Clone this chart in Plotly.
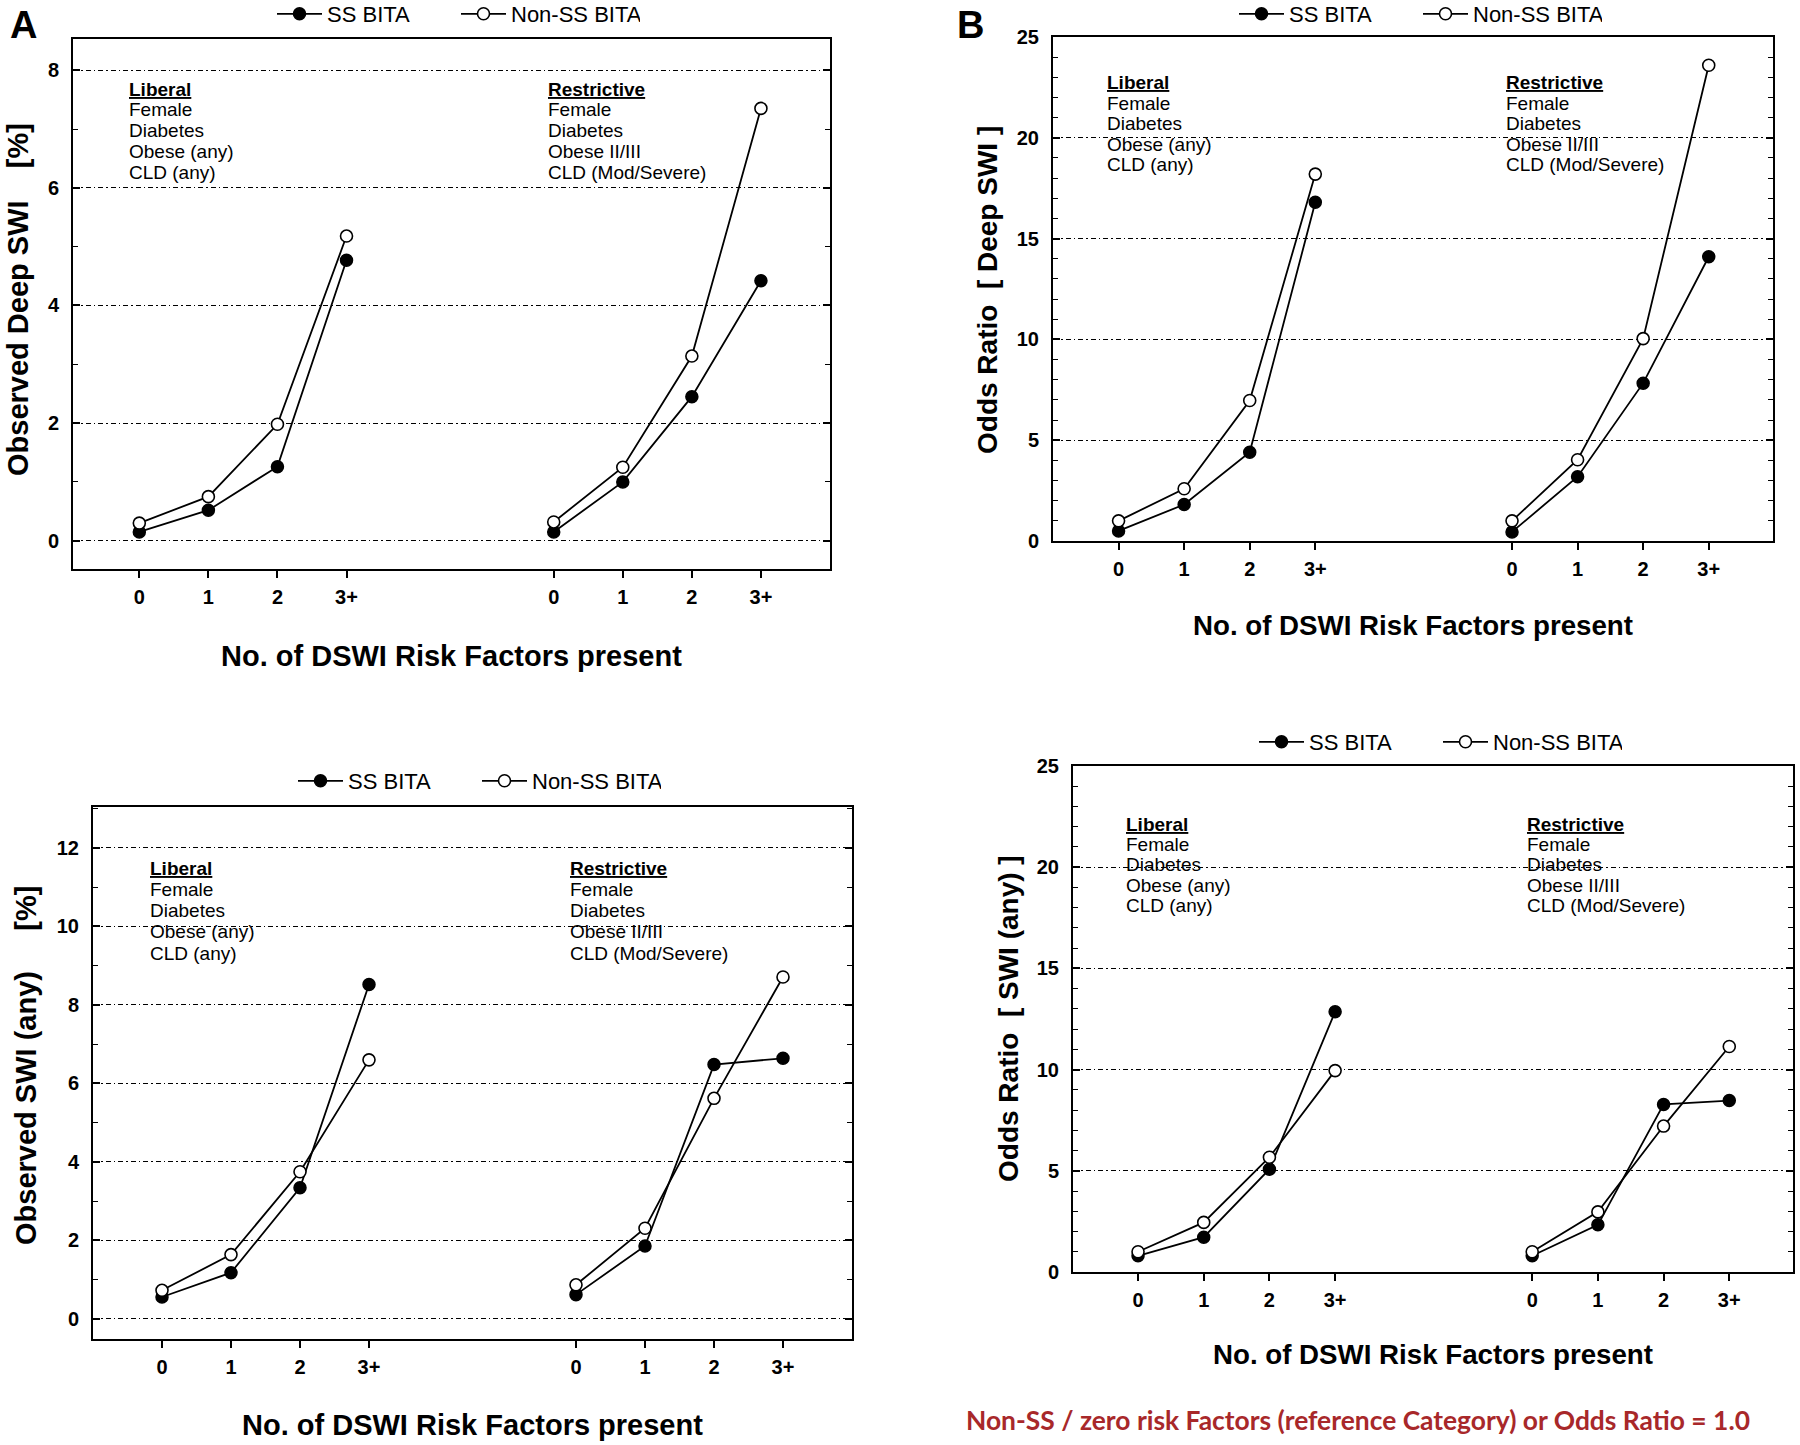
import plotly.graph_objects as go

W, H = 1800, 1445

# ---------------- data ----------------
categories = ["0", "1", "2", "3+"]
series_names = ["SS BITA", "Non-SS BITA"]
liberal_factors = ["Female", "Diabetes", "Obese (any)", "CLD (any)"]
restrictive_factors = ["Female", "Diabetes", "Obese II/III", "CLD (Mod/Severe)"]

# Panel A: Observed Deep SWI [%]
a_lib_ss = [0.15, 0.52, 1.26, 4.77]
a_lib_nss = [0.30, 0.75, 1.98, 5.18]
a_res_ss = [0.15, 1.00, 2.45, 4.42]
a_res_nss = [0.32, 1.25, 3.14, 7.35]

# Panel B: Odds Ratio [Deep SWI]
b_lib_ss = [0.50, 1.81, 4.40, 16.8]
b_lib_nss = [1.00, 2.59, 6.97, 18.2]
b_res_ss = [0.45, 3.19, 7.83, 14.1]
b_res_nss = [1.00, 4.03, 10.04, 23.6]

# Panel C: Observed SWI (any) [%]
c_lib_ss = [0.56, 1.18, 3.34, 8.52]
c_lib_nss = [0.73, 1.64, 3.75, 6.60]
c_res_ss = [0.62, 1.86, 6.48, 6.64]
c_res_nss = [0.87, 2.31, 5.62, 8.71]

# Panel D: Odds Ratio [SWI (any)]
d_lib_ss = [0.80, 1.72, 5.08, 12.86]
d_lib_nss = [1.00, 2.45, 5.67, 9.95]
d_res_ss = [0.80, 2.33, 8.28, 8.47]
d_res_nss = [1.00, 2.97, 7.21, 11.14]

# ---------------- layout helpers ----------------
FONT = "Liberation Sans, Arial, sans-serif"
GROUP_OFFSET = 6
lib_x = list(range(len(categories)))
res_x = [i + GROUP_OFFSET for i in lib_x]


def pxx(p):
    return p / W


def pxy(p):
    return 1 - p / H


panels = [
    dict(n="", frame=(73, 39, 830, 569), xr=[-0.96, 10.0], yr=[-0.48, 8.53], dtick=2, ymax=8,
         data=(a_lib_ss, a_lib_nss, a_res_ss, a_res_nss),
         ytitle="Observed Deep SWI\u00a0\u00a0\u00a0\u00a0[%]", ytpos=(18, 300), xtitle_y=656,
         ysize=29, xsize=29,
         legend="legend", legpos=(456, 14), lib_txt=(127, 89), res_txt_x=546, spacing=20.8),
    dict(n="2", frame=(1053, 37, 1773, 541), xr=[-1.0, 9.98], yr=[0, 25], dtick=5, ymax=25,
         data=(b_lib_ss, b_lib_nss, b_res_ss, b_res_nss),
         ytitle="Odds Ratio\u00a0\u00a0[ Deep SWI ]", ytpos=(988, 290), xtitle_y=625,
         ysize=28, xsize=27.7,
         legend="legend2", legpos=(1418, 14), lib_txt=(1105, 83), res_txt_x=1504, spacing=20.5),
    dict(n="3", frame=(93, 807, 852, 1339), xr=[-1.0, 10.0], yr=[-0.51, 13.04], dtick=2, ymax=12,
         data=(c_lib_ss, c_lib_nss, c_res_ss, c_res_nss),
         ytitle="Observed SWI (any)\u00a0\u00a0\u00a0\u00a0\u00a0[%]", ytpos=(26, 1066), xtitle_y=1425,
         ysize=29, xsize=29,
         legend="legend3", legpos=(477, 781), lib_txt=(148, 868), res_txt_x=568, spacing=21.3),
    dict(n="4", frame=(1073, 766, 1793, 1272), xr=[-0.99, 9.97], yr=[0, 25], dtick=5, ymax=25,
         data=(d_lib_ss, d_lib_nss, d_res_ss, d_res_nss),
         ytitle="Odds Ratio\u00a0\u00a0[ SWI (any) ]", ytpos=(1008, 1019), xtitle_y=1354,
         ysize=28, xsize=27.7,
         legend="legend4", legpos=(1438, 742), lib_txt=(1124, 824), res_txt_x=1525, spacing=20.5),
]

fig = go.Figure()
annotations = []
layout = dict(
    width=W, height=H, margin=dict(l=0, r=0, t=0, b=0, autoexpand=False),
    paper_bgcolor="white", plot_bgcolor="white",
    font=dict(family=FONT, color="black"),
    showlegend=True,
)

marker_styles = [
    dict(symbol="circle", size=12, color="black", line=dict(color="black", width=1.5)),
    dict(symbol="circle", size=12, color="white", line=dict(color="black", width=1.6)),
]

for p in panels:
    n = p["n"]
    xa, ya = "x" + n, "y" + n
    lib_ss, lib_nss, res_ss, res_nss = p["data"]
    for gi, (xs, ss, nss) in enumerate([(lib_x, lib_ss, lib_nss), (res_x, res_ss, res_nss)]):
        for si, vals in enumerate([ss, nss]):
            fig.add_trace(go.Scatter(
                x=xs, y=vals, mode="lines+markers", name=series_names[si],
                line=dict(color="black", width=1.8), marker=marker_styles[si],
                xaxis=xa, yaxis=ya, legend=p["legend"], showlegend=(gi == 0),
                hoverinfo="skip",
            ))
    x0, y0, x1, y1 = p["frame"]
    layout["xaxis" + n] = dict(
        domain=[pxx(x0), pxx(x1)], range=p["xr"], anchor=ya,
        tickmode="array", tickvals=lib_x + res_x, ticktext=categories + categories,
        ticks="outside", ticklen=7, tickwidth=1.5, tickcolor="black",
        showline=True, linewidth=2, linecolor="black", mirror=True,
        showgrid=False, zeroline=False,
        tickfont=dict(family=FONT, size=20, weight="bold", color="black"),
        ticklabelstandoff=2,
    )
    layout["yaxis" + n] = dict(
        domain=[pxy(y1), pxy(y0)], range=p["yr"], anchor=xa,
        tickmode="array", tickvals=list(range(0, p["ymax"] + 1, p["dtick"])),
        ticks="inside", ticklen=7, tickwidth=1.5, tickcolor="black",
        showline=True, linewidth=2, linecolor="black", mirror="allticks",
        showgrid=True, gridcolor="black", gridwidth=1.1, griddash="5px,3px,1.5px,3px",
        zeroline=False,
        minor=dict(tickmode="linear", tick0=0, dtick=1, ticks="inside", ticklen=5,
                   tickwidth=1.3, tickcolor="black", showgrid=False),
        tickfont=dict(family=FONT, size=20, weight="bold", color="black"),
        ticklabelstandoff=8,
    )
    lx, ly = p["legpos"]
    layout[p["legend"]] = dict(
        orientation="h", x=pxx(lx), y=pxy(ly), xanchor="center", yanchor="middle",
        xref="paper", yref="paper",
        font=dict(family=FONT, size=22, color="black"),
        bgcolor="rgba(0,0,0,0)", itemwidth=45, tracegroupgap=0,
        entrywidth=124, entrywidthmode="pixels",
    )
    # axis titles
    annotations.append(dict(
        text="<b>" + p["ytitle"] + "</b>", x=pxx(p["ytpos"][0]), y=pxy(p["ytpos"][1]),
        xref="paper", yref="paper", textangle=-90, showarrow=False,
        xanchor="center", yanchor="middle", font=dict(family=FONT, size=p["ysize"], color="black"),
    ))
    annotations.append(dict(
        text="<b>No. of DSWI Risk Factors present</b>", x=pxx((x0 + x1) / 2), y=pxy(p["xtitle_y"]),
        xref="paper", yref="paper", showarrow=False,
        xanchor="center", yanchor="middle", font=dict(family=FONT, size=p["xsize"], color="black"),
    ))
    # risk factor lists
    tx, ty = p["lib_txt"]
    for head, items, xpix in [("Liberal", liberal_factors, tx), ("Restrictive", restrictive_factors, p["res_txt_x"])]:
        lines = ["<b><u>" + head + "</u></b>"] + items
        for li, t in enumerate(lines):
            annotations.append(dict(
                text=t, x=pxx(xpix), y=pxy(ty + li * p["spacing"]),
                xref="paper", yref="paper", showarrow=False,
                xanchor="left", yanchor="middle", font=dict(family=FONT, size=19, color="black"),
            ))

# panel letters
annotations.append(dict(text="<b>A</b>", x=pxx(23), y=pxy(25), xref="paper", yref="paper",
                        showarrow=False, xanchor="center", yanchor="middle",
                        font=dict(family=FONT, size=38, color="black")))
annotations.append(dict(text="<b>B</b>", x=pxx(970), y=pxy(25), xref="paper", yref="paper",
                        showarrow=False, xanchor="center", yanchor="middle",
                        font=dict(family=FONT, size=38, color="black")))
# footnote
annotations.append(dict(
    text="<b>Non-SS / zero risk Factors (reference Category) or Odds Ratio = 1.0</b>",
    x=pxx(1358), y=pxy(1420), xref="paper", yref="paper", showarrow=False,
    xanchor="center", yanchor="middle", font=dict(family="Lato, sans-serif", size=26.4, color="#a8282a"),
))

layout["annotations"] = annotations
fig.update_layout(**layout)
fig.write_html(
    "out.html",
    config={"displayModeBar": False},
    post_script="document.body.style.margin='0px';document.body.style.overflow='hidden';",
)
